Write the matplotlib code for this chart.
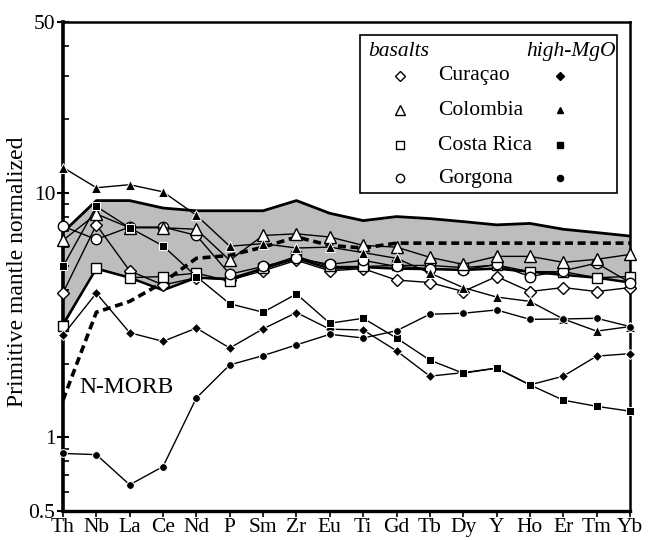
import matplotlib
matplotlib.use("Agg")
import matplotlib.pyplot as plt
from matplotlib.patches import Rectangle
from matplotlib.ticker import LogLocator, NullFormatter

plt.rcParams["font.family"] = ["Liberation Serif", "DejaVu Serif"]

elements = ["Th", "Nb", "La", "Ce", "Nd", "P", "Sm", "Zr", "Eu", "Ti",
            "Gd", "Tb", "Dy", "Y", "Ho", "Er", "Tm", "Yb"]

# basalts (open symbols)
curacao_bas = [3.9, 7.4, 4.8, 4.2, 4.5, 4.4, 4.8, 5.3, 4.8, 4.9,
               4.4, 4.3, 3.95, 4.55, 3.95, 4.1, 3.95, 4.1]
colombia_bas = [6.4, 8.2, 7.2, 7.2, 7.1, 5.3, 6.7, 6.8, 6.6, 6.1,
                6.0, 5.45, 5.1, 5.5, 5.5, 5.2, 5.35, 5.6]
costarica_bas = [2.85, 4.93, 4.5, 4.55, 4.7, 4.35, 4.95, 5.5, 5.0, 5.0,
                 5.05, 5.05, 4.95, 5.07, 4.76, 4.76, 4.5, 4.55]
gorgona_bas = [7.3, 6.45, 7.25, 7.25, 6.7, 4.65, 5.0, 5.4, 5.1, 5.3,
               5.0, 4.9, 4.84, 5.1, 4.55, 4.8, 5.16, 4.3]

# high-MgO rocks (filled symbols)
curacao_mg = [2.62, 3.89, 2.68, 2.47, 2.80, 2.32, 2.78, 3.24, 2.77, 2.75,
              2.26, 1.78, 1.84, 1.92, 1.64, 1.78, 2.15, 2.20]
colombia_mg = [12.7, 10.5, 10.8, 10.1, 8.1, 6.05, 6.2, 5.95, 6.0, 5.7,
               5.4, 4.7, 4.1, 3.75, 3.6, 3.05, 2.72, 2.84]
costarica_mg = [5.0, 8.8, 7.2, 6.07, 4.55, 3.52, 3.25, 3.86, 2.93, 3.07,
                2.55, 2.07, 1.83, 1.92, 1.64, 1.42, 1.34, 1.28]
gorgona_mg = [0.86, 0.85, 0.64, 0.76, 1.45, 1.98, 2.16, 2.39, 2.64, 2.55,
              2.73, 3.19, 3.22, 3.32, 3.04, 3.05, 3.07, 2.84]

nmorb = [1.42, 3.25, 3.6, 4.3, 5.4, 5.55, 6.0, 6.6, 6.1, 5.95,
         6.23, 6.23, 6.23, 6.23, 6.23, 6.23, 6.23, 6.23]

# field of oceanic plateau basalts
band_hi = [6.9, 9.3, 9.3, 8.67, 8.45, 8.45, 8.45, 9.3, 8.25, 7.7,
           8.0, 7.85, 7.63, 7.4, 7.5, 7.1, 6.88, 6.66]
band_lo = [2.9, 4.9, 4.5, 4.0, 4.5, 4.45, 4.9, 5.4, 4.9, 4.97,
           4.9, 4.88, 4.84, 4.9, 4.76, 4.62, 4.5, 4.3]

x = list(range(len(elements)))

fig = plt.figure(figsize=(6.48, 5.4), dpi=100)
ax = fig.add_axes([0.0972, 0.0537, 0.875, 0.9056])
ax.set_yscale("log")

ax.fill_between(x, band_lo, band_hi, color="#bdbdbd", lw=0, zorder=1)
ax.plot(x, band_hi, color="black", lw=2.0, zorder=2)
ax.plot(x, band_lo, color="black", lw=1.8, zorder=2)

ax.plot(x, nmorb, color="black", lw=2.6, ls=(0, (2.2, 1.3)), zorder=4,
        clip_on=False)

open_style = dict(color="black", lw=1.0, mfc="white", mec="black", mew=1.0,
                  clip_on=False, zorder=5)
filled_style = dict(color="black", lw=1.0, mfc="black", mec="white", mew=0.7,
                    clip_on=False, zorder=6)

ax.plot(x, curacao_bas, marker="D", ms=6.0, **open_style)
ax.plot(x, costarica_bas, marker="s", ms=7.0, **open_style)
ax.plot(x, gorgona_bas, marker="o", ms=7.5, **open_style)
ax.plot(x, colombia_bas, marker="^", ms=9.0, **open_style)

ax.plot(x, curacao_mg, marker="D", ms=4.8, **filled_style)
ax.plot(x, colombia_mg, marker="^", ms=6.8, **filled_style)
ax.plot(x, costarica_mg, marker="s", ms=5.4, **filled_style)
ax.plot(x, gorgona_mg, marker="o", ms=5.6, **filled_style)

ax.text(0.5, 1.6, "N-MORB", fontsize=17, va="center", ha="left", zorder=7)

ax.set_xlim(0, len(elements) - 1)
ax.set_ylim(0.5, 50)
ax.set_xticks(x)
ax.set_xticklabels(elements, fontsize=15.5)
ax.set_yticks([0.5, 1, 10, 50])
ax.set_yticklabels(["0.5", "1", "10", "50"], fontsize=15.5)
ax.yaxis.set_minor_locator(LogLocator(base=10, subs=range(2, 10)))
ax.yaxis.set_minor_formatter(NullFormatter())
ax.tick_params(axis="x", direction="out", length=4, width=1.2, pad=1)
ax.tick_params(axis="y", which="major", direction="inout", length=9,
               width=1.5, pad=1)
ax.tick_params(axis="y", which="minor", direction="in", length=4, width=1.2)
ax.set_ylabel("Primitive mantle normalized", fontsize=17)
ax.yaxis.set_label_coords(-0.061, 0.49)

for side, w in [("left", 2.6), ("bottom", 2.4), ("top", 1.8), ("right", 1.8)]:
    ax.spines[side].set_linewidth(w)

# legend box
tr = ax.transAxes
ax.add_patch(Rectangle((0.524, 0.650), 0.453, 0.323, transform=tr,
                       facecolor="white", edgecolor="black", lw=1.2,
                       zorder=10))
ax.text(0.538, 0.940, "basalts", style="italic", fontsize=15.5, transform=tr,
        va="center", ha="left", zorder=11)
ax.text(0.975, 0.940, "high-MgO", style="italic", fontsize=15.5, transform=tr,
        va="center", ha="right", zorder=11)

rows = [("Curaçao", "D", 5.0, 4.0),
        ("Colombia", "^", 7.0, 5.0),
        ("Costa Rica", "s", 6.0, 4.2),
        ("Gorgona", "o", 6.0, 4.4)]
row_y = [0.890, 0.820, 0.748, 0.680]
for (name, mk, ms_open, ms_fill), yy in zip(rows, row_y):
    ax.plot([0.594], [yy], marker=mk, ms=ms_open, mfc="white", mec="black",
            mew=1.0, ls="none", transform=tr, zorder=11, clip_on=False)
    ax.text(0.662, yy, name, fontsize=15.5, transform=tr, va="center",
            ha="left", zorder=11)
    ax.plot([0.877], [yy], marker=mk, ms=ms_fill, mfc="black", mec="black",
            ls="none", transform=tr, zorder=11, clip_on=False)

fig.savefig("out.png", dpi=100)
